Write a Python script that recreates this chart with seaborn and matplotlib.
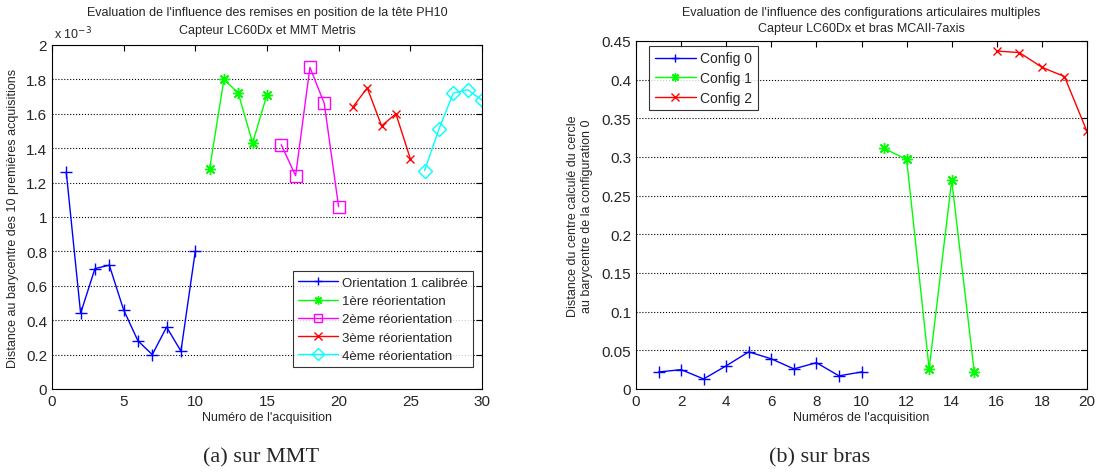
import numpy as np
import pandas as pd
import seaborn as sns
import matplotlib.pyplot as plt

# données (a) sur MMT, valeurs en 1e-3
acq_mmt = [list(range(1, 11)), list(range(11, 16)), list(range(16, 21)),
           list(range(21, 26)), list(range(26, 31))]
orient_0 = [1.26, 0.44, 0.70, 0.72, 0.46, 0.28, 0.20, 0.36, 0.22, 0.80]
orient_1 = [1.28, 1.80, 1.72, 1.43, 1.71]
orient_2 = [1.42, 1.24, 1.87, 1.66, 1.06]
orient_3 = [1.64, 1.75, 1.53, 1.60, 1.34]
orient_4 = [1.27, 1.51, 1.72, 1.74, 1.68]
labels_mmt = ['Orientation 1 calibrée', '1ère réorientation', '2ème réorientation',
              '3ème réorientation', '4ème réorientation']
yticks_mmt = ['0', '0.2', '0.4', '0.6', '0.8', '1', '1.2', '1.4', '1.6', '1.8', '2']

# données (b) sur bras
acq_bras = [list(range(1, 11)), list(range(11, 16)), list(range(16, 21))]
config_0 = [0.022, 0.025, 0.013, 0.030, 0.048, 0.039, 0.026, 0.034, 0.017, 0.022]
config_1 = [0.311, 0.297, 0.026, 0.270, 0.022]
config_2 = [0.437, 0.435, 0.416, 0.404, 0.333]
labels_bras = ['Config 0', 'Config 1', 'Config 2']
yticks_bras = ['0', '0.05', '0.1', '0.15', '0.2', '0.25', '0.3', '0.35', '0.4', '0.45']

sns.set_style('white')
plt.rcParams['font.family'] = ['Liberation Sans', 'DejaVu Sans']

fig = plt.figure(figsize=(10.96, 4.77), dpi=100)
ax1 = fig.add_axes([0.0474, 0.1824, 0.3923, 0.7212])
ax2 = fig.add_axes([0.5803, 0.1824, 0.4115, 0.7296])

asterisk = (8, 2, 0)  # étoile façon MATLAB

# style des séries (façon MATLAB)
styles_mmt = [('#0000ff', '+', 9, 'full'), ('#00ff00', asterisk, 8, 'full'),
              ('#ff00ff', 's', 9, 'none'), ('#ff0000', 'x', 6, 'full'),
              ('#00ffff', 'D', 7, 'none')]
values_mmt = [orient_0, orient_1, orient_2, orient_3, orient_4]
for xs, ys, lab, (c, m, ms, fill) in zip(acq_mmt, values_mmt, labels_mmt, styles_mmt):
    df = pd.DataFrame({'x': xs, 'y': ys})
    kw = dict(mfc='none') if fill == 'none' else {}
    sns.lineplot(data=df, x='x', y='y', ax=ax1, color=c, marker=m, markersize=ms,
                 markeredgecolor=c, markeredgewidth=1, linewidth=1, label=lab, **kw)

styles_bras = [('#0000ff', '+', 9), ('#00ff00', asterisk, 8), ('#ff0000', 'x', 6)]
values_bras = [config_0, config_1, config_2]
for xs, ys, lab, (c, m, ms) in zip(acq_bras, values_bras, labels_bras, styles_bras):
    df = pd.DataFrame({'x': xs, 'y': ys})
    sns.lineplot(data=df, x='x', y='y', ax=ax2, color=c, marker=m, markersize=ms,
                 markeredgecolor=c, markeredgewidth=1, linewidth=1, label=lab)

for ax in (ax1, ax2):
    ax.tick_params(direction='in', top=True, right=True, labelsize=11, length=4, color='black')
    ax.grid(axis='y', linestyle=':', color='black', linewidth=0.8)
    ax.grid(axis='x', visible=False)
    for s in ax.spines.values():
        s.set_color('black')
        s.set_linewidth(0.8)

ax1.set_xlim(0, 30)
ax1.set_ylim(0, 2)
ax1.set_xticks(np.arange(0, 31, 5))
ax1.set_xticklabels([str(v) for v in range(0, 31, 5)])
ax1.set_yticks(np.arange(0, 2.01, 0.2))
ax1.set_yticklabels(yticks_mmt)
ax1.text(0.005, 1.012, r'x 10$^{-3}$', transform=ax1.transAxes, fontsize=9, ha='left', va='bottom')
# titre sur deux textes séparés
ax1.text(0.5, 1.095, "Evaluation de l'influence des remises en position de la tête PH10",
         transform=ax1.transAxes, fontsize=9, ha='center', va='center')
ax1.text(0.5, 1.044, 'Capteur LC60Dx et MMT Metris',
         transform=ax1.transAxes, fontsize=9, ha='center', va='center')
ax1.set_xlabel("Numéro de l'acquisition", fontsize=9, labelpad=2)
ax1.set_ylabel('Distance au barycentre des 10 premières acquisitions', fontsize=9, labelpad=5)
leg1 = ax1.legend(loc='lower right', bbox_to_anchor=(0.979, 0.064), fontsize=9.5, frameon=True,
                  fancybox=False, edgecolor='black', borderaxespad=0, handlelength=3.0,
                  labelspacing=0.45, handletextpad=0.3, borderpad=0.4)
leg1.get_frame().set_linewidth(0.8)
for h in leg1.legend_handles:
    h.set_markersize(6)

ax2.set_xlim(0, 20)
ax2.set_ylim(0, 0.45)
ax2.set_xticks(np.arange(0, 21, 2))
ax2.set_xticklabels([str(v) for v in range(0, 21, 2)])
ax2.set_yticks(np.arange(0, 0.451, 0.05))
ax2.set_yticklabels(yticks_bras)
ax2.set_title("Evaluation de l'influence des configurations articulaires multiples\nCapteur LC60Dx et bras MCAII-7axis",
              fontsize=9, pad=7, linespacing=1.45)
ax2.set_xlabel("Numéros de l'acquisition", fontsize=9, labelpad=2)
ax2.set_ylabel('Distance du centre calculé du cercle\nau barycentre de la configuration 0', fontsize=9,
               labelpad=6, linespacing=1.2)
leg2 = ax2.legend(loc='upper left', bbox_to_anchor=(0.029, 0.986), fontsize=10, frameon=True,
                  fancybox=False, edgecolor='black', borderaxespad=0, handlelength=3.0,
                  labelspacing=0.4, handletextpad=0.3, borderpad=0.4)
leg2.get_frame().set_linewidth(0.8)
for h in leg2.legend_handles:
    h.set_markersize(6)

# légendes des sous-figures
fig.text(0.238, 0.03, '(a) sur MMT', ha='center', fontsize=16, family=['Liberation Serif', 'DejaVu Serif'])
fig.text(0.748, 0.03, '(b) sur bras', ha='center', fontsize=16, family=['Liberation Serif', 'DejaVu Serif'])

fig.savefig('out.png', dpi=100, facecolor='white')
